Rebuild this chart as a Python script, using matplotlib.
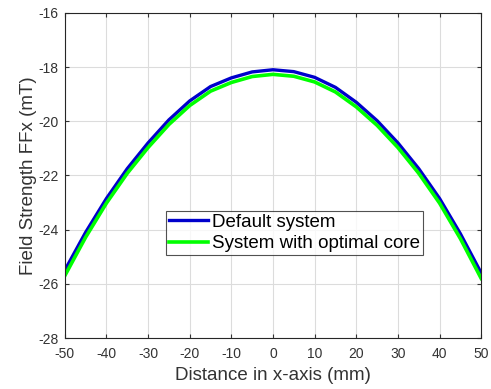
import numpy as np
import matplotlib.pyplot as plt

plt.rcParams['font.family'] = ['Liberation Sans', 'DejaVu Sans']
plt.rcParams['axes.unicode_minus'] = False

# distance along x-axis (mm)
x = [-50, -45, -40, -35, -30, -25, -20, -15, -10, -5, 0,
     5, 10, 15, 20, 25, 30, 35, 40, 45, 50]
# field strength (mT)
default_sys = [-25.5, -24.1, -22.85, -21.75, -20.8, -19.95, -19.25, -18.72, -18.4, -18.18, -18.1,
               -18.17, -18.38, -18.75, -19.3, -19.98, -20.8, -21.75, -22.85, -24.15, -25.6]
optimal_core = [-25.7, -24.28, -23.02, -21.92, -20.97, -20.12, -19.42, -18.89, -18.57, -18.35, -18.27,
                -18.34, -18.55, -18.92, -19.47, -20.15, -20.97, -21.92, -23.02, -24.33, -25.8]

fig = plt.figure(figsize=(4.91, 3.89), dpi=100)
ax = fig.add_axes([0.132, 0.131, 0.848, 0.836])

ax.plot(x, default_sys, color='#0000cc', lw=2.4, label='Default system')
ax.plot(x, optimal_core, color='#00ff00', lw=2.6, label='System with optimal core')

ax.set_xlim(-50, 50)
ax.set_ylim(-28, -16)
ax.set_xticks(np.arange(-50, 51, 10))
ax.set_yticks(np.arange(-28, -15, 2))
ax.grid(True, color='#dcdcdc', lw=0.8)
ax.tick_params(direction='in', top=True, right=True, labelsize=10, colors='#333333', length=3)
ax.tick_params(axis='x', pad=6.5)
ax.tick_params(axis='y', pad=4.5)
for s in ax.spines.values():
    s.set_color('#262626')
    s.set_linewidth(0.8)

ax.set_xlabel('Distance in x-axis (mm)', fontsize=13.5, color='#333333', labelpad=4)
ax.set_ylabel('Field Strength FFx (mT)', fontsize=13.5, color='#333333', labelpad=1)

leg = ax.legend(loc='center', bbox_to_anchor=(0.552, 0.323), fontsize=13.5,
                fancybox=False, edgecolor='#262626', handlelength=2.1,
                handletextpad=0.2, borderpad=0.15, labelspacing=0.25, borderaxespad=0)
leg.get_frame().set_linewidth(0.8)

fig.savefig('out.png', dpi=100)
